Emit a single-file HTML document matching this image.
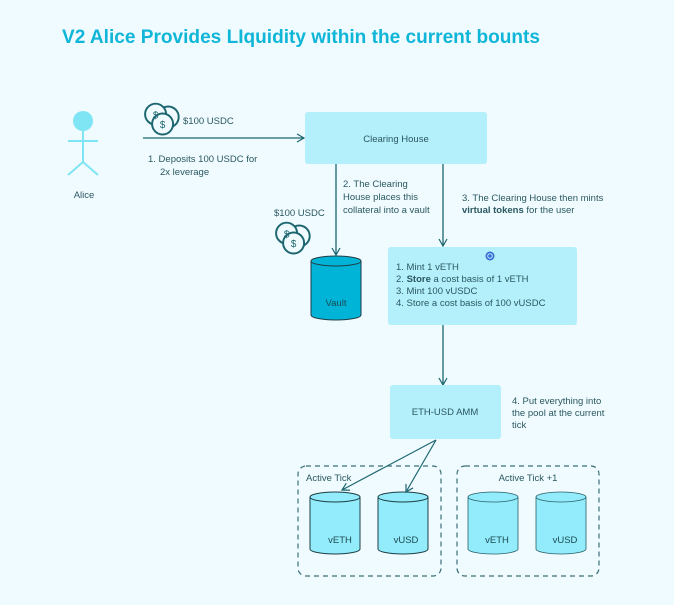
<!DOCTYPE html>
<html><head><meta charset="utf-8"><style>
html,body{margin:0;padding:0;background:#effbff;}
svg{display:block;font-family:"Liberation Sans",sans-serif;}
</style></head><body>
<svg width="674" height="605" viewBox="0 0 674 605" xmlns="http://www.w3.org/2000/svg">
<rect width="674" height="605" fill="#effbff"/>
<defs>
<marker id="a" markerWidth="10" markerHeight="10" refX="8" refY="5" orient="auto" markerUnits="userSpaceOnUse">
<path d="M1,1 L8,5 L1,9" fill="none" stroke="#1d6670" stroke-width="1.2"/></marker>
<g id="coins" fill="#effbff" stroke="#1d6670" stroke-width="1.4">
<circle cx="18" cy="10" r="7.5"/><circle cx="9" cy="8" r="7.5"/><circle cx="14" cy="15" r="7.5"/>
<text x="9" y="11" font-size="7" fill="#1d6670" stroke="none" text-anchor="middle">$</text>
<text x="14" y="18" font-size="7" fill="#1d6670" stroke="none" text-anchor="middle">$</text>
</g>
</defs>
<text x="62" y="43" font-size="19.5" font-weight="bold" fill="#10b6d8" textLength="478" lengthAdjust="spacingAndGlyphs">V2 Alice Provides LIquidity within the current bounts</text>

<!-- Alice -->
<g stroke="#7fe4f4" stroke-width="2" fill="none">
<line x1="83" y1="131" x2="83" y2="162"/><line x1="68" y1="141" x2="98" y2="141"/>
<line x1="83" y1="162" x2="68" y2="175"/><line x1="83" y1="162" x2="98" y2="175"/>
</g>
<circle cx="83" cy="121" r="10" fill="#7fe4f4"/>
<text x="84" y="198" font-size="9.5" fill="#2b5860" text-anchor="middle">Alice</text>

<use href="#coins" transform="translate(143,103) scale(1.4)"/>
<text x="183" y="124" font-size="9.5" fill="#2b5860">$100 USDC</text>
<line x1="143" y1="138" x2="304" y2="138" stroke="#1d6670" stroke-width="1.3" marker-end="url(#a)"/>
<text font-size="9.5" fill="#2b5860"><tspan x="148" y="162">1. Deposits 100 USDC for</tspan><tspan x="160" y="175">2x leverage</tspan></text>

<rect x="305" y="112" width="182" height="52" rx="3" fill="#b3f0fb"/>
<text x="396" y="142" font-size="9.5" fill="#2b5860" text-anchor="middle">Clearing House</text>

<line x1="336" y1="164" x2="336" y2="255" stroke="#1d6670" stroke-width="1.3" marker-end="url(#a)"/>
<text font-size="9.5" fill="#2b5860"><tspan x="343" y="187">2. The Clearing</tspan><tspan x="343" y="200">House places this</tspan><tspan x="343" y="213">collateral into a vault</tspan></text>
<text x="274" y="216" font-size="9.5" fill="#2b5860">$100 USDC</text>
<use href="#coins" transform="translate(274,222) scale(1.4)"/>

<!-- Vault -->
<path d="M311,261 L311,315 A25,5 0 0 0 361,315 L361,261" fill="#00b4d8" stroke="#1d3e44" stroke-width="1"/>
<ellipse cx="336" cy="261" rx="25" ry="5" fill="#00b4d8" stroke="#1d3e44" stroke-width="1"/>
<text x="336" y="306" font-size="9.5" fill="#1d4a52" text-anchor="middle">Vault</text>

<text font-size="9.5" fill="#2b5860"><tspan x="462" y="201">3. The Clearing House then mints</tspan><tspan x="462" y="213"><tspan font-weight="bold">virtual tokens</tspan> for the user</tspan></text>
<line x1="443" y1="164" x2="443" y2="246" stroke="#1d6670" stroke-width="1.3" marker-end="url(#a)"/>

<rect x="388" y="247" width="189" height="78" rx="3" fill="#b3f0fb"/>
<circle cx="490" cy="256" r="4.5" fill="#3a6bd8"/><circle cx="490" cy="256" r="2.3" fill="none" stroke="#b3f0fb" stroke-width="1"/>
<text font-size="9.5" fill="#2b5860"><tspan x="396" y="270">1. Mint 1 vETH</tspan><tspan x="396" y="282">2. <tspan font-weight="bold">Store</tspan> a cost basis of 1 vETH</tspan><tspan x="396" y="294">3. Mint 100 vUSDC</tspan><tspan x="396" y="306">4. Store a cost basis of 100 vUSDC</tspan></text>

<line x1="443" y1="325" x2="443" y2="385" stroke="#1d6670" stroke-width="1.3" marker-end="url(#a)"/>
<rect x="390" y="385" width="111" height="54" rx="3" fill="#b3f0fb"/>
<text x="445" y="415" font-size="9.5" fill="#2b5860" text-anchor="middle">ETH-USD AMM</text>
<text font-size="9.5" fill="#2b5860"><tspan x="512" y="404">4. Put everything into</tspan><tspan x="512" y="416">the pool at the current</tspan><tspan x="512" y="428">tick</tspan></text>

<!-- ticks -->
<rect x="298" y="466" width="143" height="110" rx="8" fill="none" stroke="#3a7078" stroke-width="1.2" stroke-dasharray="5,4"/>
<rect x="457" y="466" width="142" height="110" rx="8" fill="none" stroke="#3a7078" stroke-width="1.2" stroke-dasharray="5,4"/>
<text x="306" y="481" font-size="9.5" fill="#2b5860">Active Tick</text>
<text x="528" y="481" font-size="9.5" fill="#2b5860" text-anchor="middle">Active Tick +1</text>

<g font-size="9.5" fill="#1d4a52" text-anchor="middle">
<path d="M310,497 L310,549 A25,5 0 0 0 360,549 L360,497" fill="#92ecfb" stroke="#1d3e44"/>
<ellipse cx="335" cy="497" rx="25" ry="5" fill="#92ecfb" stroke="#1d3e44"/>
<text x="340" y="543">vETH</text>
<path d="M378,497 L378,549 A25,5 0 0 0 428,549 L428,497" fill="#92ecfb" stroke="#1d3e44"/>
<ellipse cx="403" cy="497" rx="25" ry="5" fill="#92ecfb" stroke="#1d3e44"/>
<text x="406" y="543">vUSD</text>
<path d="M468,497 L468,549 A25,5 0 0 0 518,549 L518,497" fill="#92ecfb" stroke="#2a6068" stroke-width="0.8"/>
<ellipse cx="493" cy="497" rx="25" ry="5" fill="#92ecfb" stroke="#2a6068" stroke-width="0.8"/>
<text x="497" y="543">vETH</text>
<path d="M536,497 L536,549 A25,5 0 0 0 586,549 L586,497" fill="#92ecfb" stroke="#2a6068" stroke-width="0.8"/>
<ellipse cx="561" cy="497" rx="25" ry="5" fill="#92ecfb" stroke="#2a6068" stroke-width="0.8"/>
<text x="565" y="543">vUSD</text>
</g>
<line x1="436" y1="440" x2="342" y2="490" stroke="#1d6670" stroke-width="1.2" marker-end="url(#a)"/>
<line x1="436" y1="440" x2="406" y2="492" stroke="#1d6670" stroke-width="1.2" marker-end="url(#a)"/>
</svg>
</body></html>
